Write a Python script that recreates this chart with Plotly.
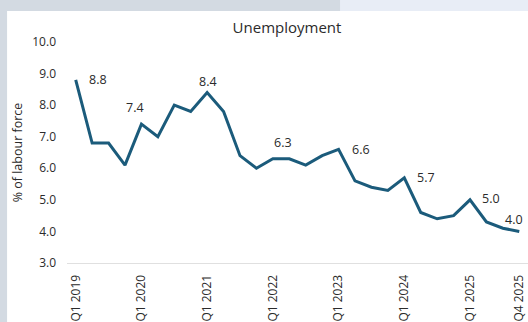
import plotly.graph_objects as go

quarters = [f"Q{q} {y}" for y in range(2019, 2026) for q in range(1, 5)]
unemployment = [8.8, 6.8, 6.8, 6.1, 7.4, 7.0, 8.0, 7.8,
                8.4, 7.8, 6.4, 6.0, 6.3, 6.3, 6.1, 6.4,
                6.6, 5.6, 5.4, 5.3, 5.7, 4.6, 4.4, 4.5,
                5.0, 4.3, 4.1, 4.0]
tick_labels = ["Q1 2019", "Q1 2020", "Q1 2021", "Q1 2022", "Q1 2023",
               "Q1 2024", "Q1 2025", "Q4 2025"]
labelled = ["Q1 2019", "Q1 2020", "Q1 2021", "Q1 2022", "Q1 2023",
            "Q1 2024", "Q1 2025", "Q4 2025"]
# pixel offsets for value labels (style)
label_offsets = [(22, 0), (-6, 17), (1, 11), (10, 16), (22, 0), (22, 0), (21, 1), (-5, 12)]

LINE = "#1b5b7b"
FONT = "'Open Sans', Lato, sans-serif"
TXT = "#2b2b2b"

fig = go.Figure()
fig.add_trace(go.Scatter(
    x=quarters, y=unemployment, mode="lines",
    line=dict(color=LINE, width=3), hoverinfo="skip", showlegend=False))

for q, (dx, dy) in zip(labelled, label_offsets):
    v = unemployment[quarters.index(q)]
    fig.add_annotation(x=q, y=v, text=f"{v:.1f}", showarrow=False,
                       xshift=dx, yshift=dy,
                       font=dict(family=FONT, size=12.5, color=TXT))

# background panels
fig.add_shape(type="rect", xref="paper", yref="paper",
              x0=-0.13, x1=1.05, y0=-0.3, y1=1.14, layer="below",
              fillcolor="white", line_width=0)
fig.add_shape(type="rect", xref="paper", yref="paper",
              x0=0.5923, x1=1.05, y0=1.14, y1=1.25, layer="below",
              fillcolor="#e8edf6", line_width=0)

fig.update_layout(
    width=528, height=322,
    margin=dict(l=67, r=0, t=42, b=59),
    paper_bgcolor="#d3dae2", plot_bgcolor="white",
    font=dict(family=FONT, color=TXT),
    title=dict(text="Unemployment", x=0.5436, xref="container", xanchor="center",
               y=1 - 28 / 322, yref="container", yanchor="middle",
               font=dict(family=FONT, size=15, color=TXT)),
)
fig.update_xaxes(
    type="category", categoryorder="array", categoryarray=quarters,
    range=[-0.53, 27.53],
    tickvals=tick_labels, ticktext=tick_labels, tickangle=-90,
    tickfont=dict(family=FONT, size=12, color=TXT),
    ticklabelstandoff=6,
    showgrid=False, showline=True, linecolor="#e0e0e0", linewidth=1,
    ticks="", zeroline=False, fixedrange=True,
)
fig.update_yaxes(
    range=[3, 10], tickvals=[3, 4, 5, 6, 7, 8, 9, 10], tickformat=".1f",
    tickfont=dict(family=FONT, size=12, color=TXT),
    showgrid=False, zeroline=False, showline=False,
    ticks="", ticklabelstandoff=10,
    title=dict(text="% of labour force", standoff=6,
               font=dict(family=FONT, size=12.5, color=TXT)),
    fixedrange=True,
)

fig.write_html("out.html", config=dict(displayModeBar=False))
